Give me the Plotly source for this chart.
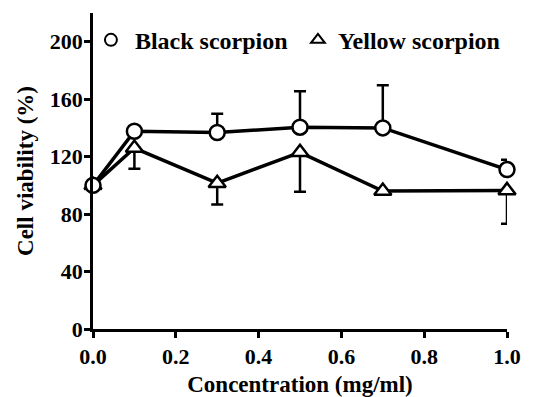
import plotly.graph_objects as go

conc = [0.0, 0.1, 0.3, 0.5, 0.7, 1.0]
black_vals = [100, 137.7, 136.8, 140.5, 140.0, 111.0]
black_err_up = [0, 0, 13.0, 25.0, 29.7, 6.8]
yellow_vals = [100, 126.0, 101.5, 123.0, 96.0, 96.5]
yellow_err_down = [0, 14.5, 14.8, 27.5, 0, 23.2]
names = ["Black scorpion", "Yellow scorpion"]
x_ticks = [0, 0.2, 0.4, 0.6, 0.8, 1.0]
x_ticktext = ["0.0", "0.2", "0.4", "0.6", "0.8", "1.0"]
y_ticks = [0, 40, 80, 120, 160, 200]
y_ticktext = ["0", "40", "80", "120", "160", "200"]

FONT = "Liberation Serif"
B = lambda s: "<b>" + s + "</b>"
fig = go.Figure()

fig.add_trace(go.Scatter(
    x=conc, y=yellow_vals, mode="lines+markers", showlegend=False, cliponaxis=False,
    line=dict(color="black", width=3.5),
    marker=dict(symbol="triangle-up", size=15, color="white",
                line=dict(color="black", width=2.5)),
    error_y=dict(type="data", array=[0]*len(conc), arrayminus=yellow_err_down,
                 symmetric=False, color="black", thickness=2.5, width=6),
))
fig.add_trace(go.Scatter(
    x=conc, y=black_vals, mode="lines+markers", showlegend=False, cliponaxis=False,
    line=dict(color="black", width=3.5),
    marker=dict(symbol="circle", size=15, color="white",
                line=dict(color="black", width=2.5)),
    error_y=dict(type="data", array=black_err_up, arrayminus=[0]*len(conc),
                 symmetric=False, color="black", thickness=2.5, width=6),
))
# legend-only entries
fig.add_trace(go.Scatter(x=[None], y=[None], mode="markers",
                         name=B("\u2006" + names[0]), legend="legend",
                         marker=dict(symbol="circle-open", size=12,
                                     color="black", line=dict(width=2))))
fig.add_trace(go.Scatter(x=[None], y=[None], mode="markers",
                         name=B(names[1]), legend="legend2",
                         marker=dict(symbol="triangle-up-open", size=12,
                                     color="black", line=dict(width=2))))

legfont = dict(family=FONT, size=24, color="black")
fig.update_layout(
    width=545, height=397,
    margin=dict(l=93, r=38, t=13, b=68),
    paper_bgcolor="white", plot_bgcolor="white",
    font=dict(family=FONT, size=22, color="black"),
    legend=dict(orientation="h", x=-0.005, y=0.985, xanchor="left", yanchor="top",
                font=legfont, bgcolor="rgba(0,0,0,0)"),
    legend2=dict(orientation="h", x=0.495, y=0.985, xanchor="left", yanchor="top",
                 font=legfont, bgcolor="rgba(0,0,0,0)"),
)
tickfont = dict(family=FONT, size=22, color="black")
fig.update_xaxes(
    range=[0, 1.0], tickvals=x_ticks, ticktext=[B(t) for t in x_ticktext],
    showgrid=False, zeroline=False, showline=True, linecolor="black", linewidth=2.5,
    ticks="outside", ticklen=6, tickwidth=2.5, tickcolor="black",
    tickfont=tickfont, automargin=False,
    title=dict(text=B("Concentration (mg/ml)"),
               font=dict(family=FONT, size=23, color="black"), standoff=14),
)
fig.update_yaxes(
    range=[0, 220], tickvals=y_ticks, ticktext=[B(t) for t in y_ticktext],
    showgrid=False, zeroline=False, showline=True, linecolor="black", linewidth=2.5,
    ticks="outside", ticklen=6, tickwidth=2.5, tickcolor="black",
    tickfont=tickfont, automargin=False, ticklabelstandoff=-3,
    title=dict(text=B("Cell viability (%)"),
               font=dict(family=FONT, size=23, color="black"), standoff=10),
)
fig.write_html("out.html")
